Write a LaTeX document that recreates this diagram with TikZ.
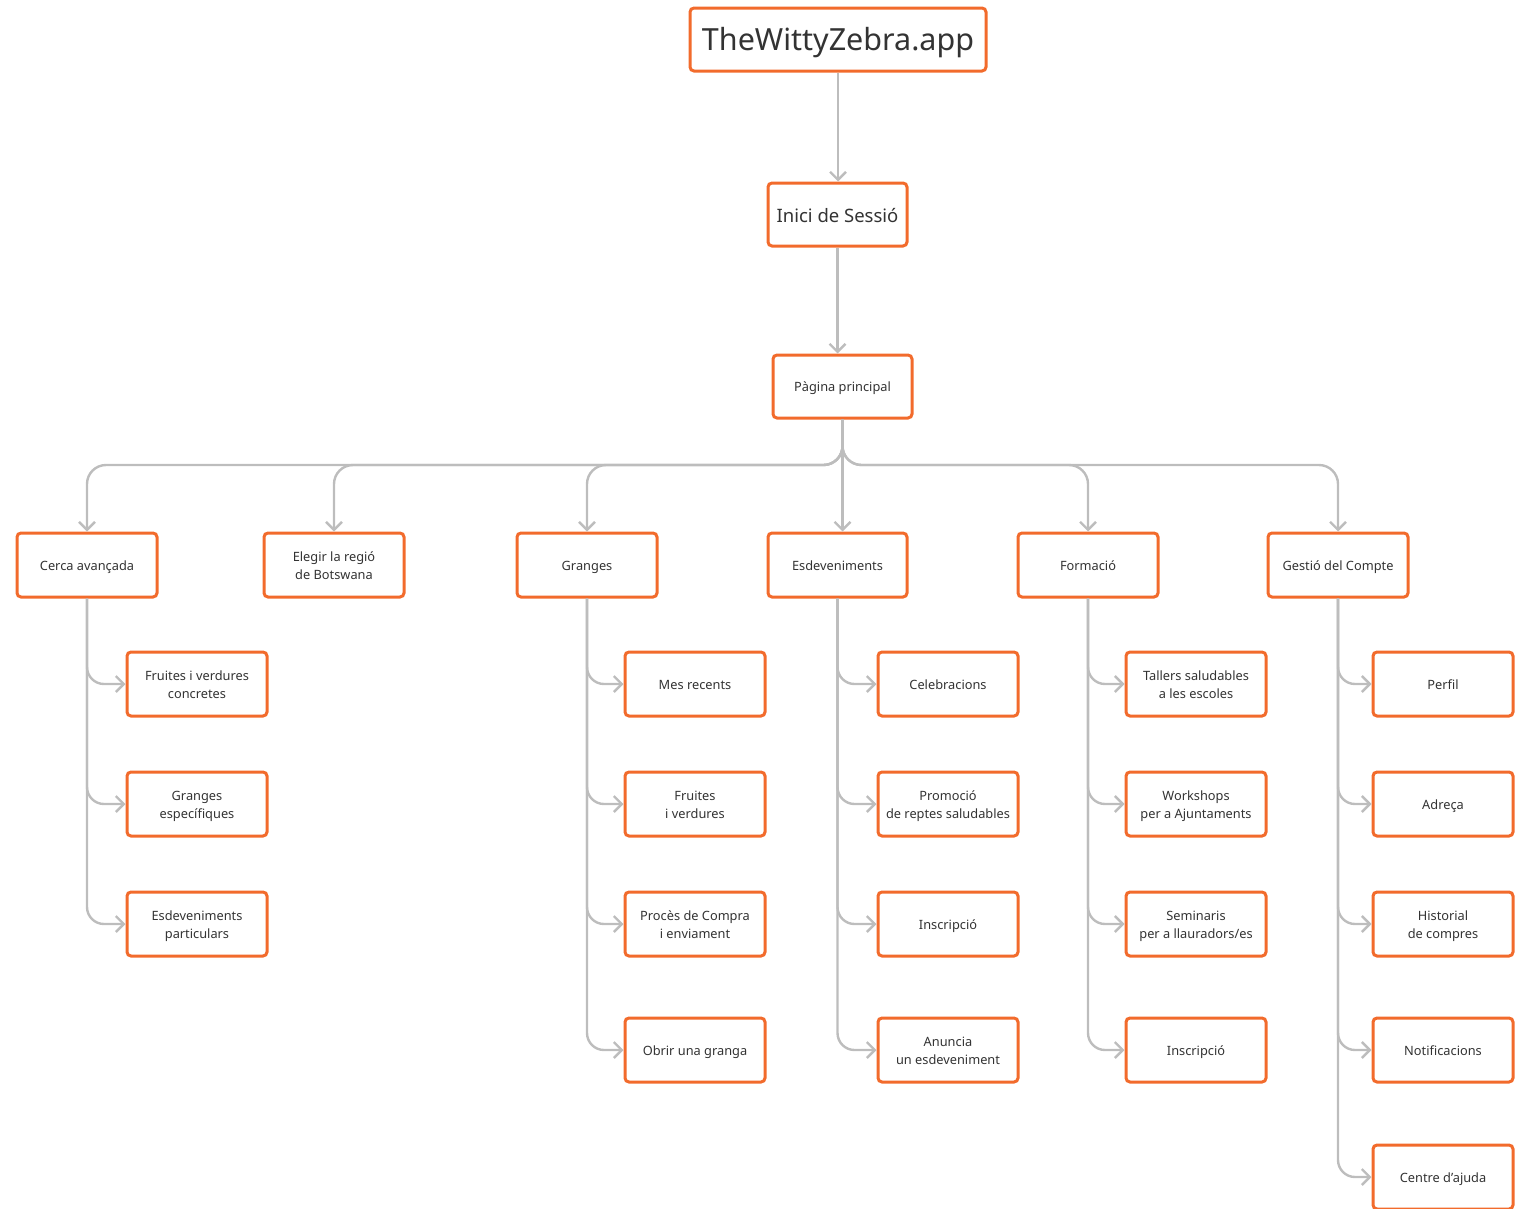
\documentclass[tikz,border=0pt]{standalone}
\usepackage{fontspec}
\setmainfont{Noto Sans}
\usetikzlibrary{arrows.meta}
\definecolor{boxorange}{HTML}{F26B2C}
\definecolor{linegray}{HTML}{BDBDBD}
\definecolor{txt}{HTML}{333333}
\begin{document}
\begin{tikzpicture}[x=1pt,y=-1pt,
  box/.style={draw=boxorange, line width=3pt, rounded corners=4pt, fill=white,
    minimum width=140pt, minimum height=64pt, inner sep=2pt, align=center,
    text=txt, font=\fontsize{12.8}{18}\selectfont},
  oneline/.style={text height=12.5pt, text depth=2.5pt},
  twolines/.style={text height=30.5pt, text depth=2.5pt},
  conn/.style={draw=linegray, line width=2.4pt,
    -{Straight Barb[length=8pt,width=16pt,line width=2.4pt]}},
  childlink/.style={conn, rounded corners=17pt}]
\useasboundingbox (0,0) rectangle (1522,1208);

% top of the tree
\node[box, minimum width=296pt, minimum height=63pt, font=\fontsize{30.5}{36}\selectfont,
      text height=27pt, text depth=6pt] (app) at (838,39.5) {TheWittyZebra.app};
\node[box, minimum width=139pt, minimum height=63pt, font=\fontsize{18.5}{22}\selectfont,
      text height=18.5pt, text depth=3.5pt] (login) at (837.5,214.5) {Inici de Sessió};
\node[box, oneline, minimum width=139pt, minimum height=63pt] (home) at (842.5,386.5) {Pàgina principal};

% main sections
\node[box, oneline] (cerca) at (87,565) {Cerca avançada};
\node[box, twolines] (regio) at (334,565) {Elegir la regió\\de Botswana};
\node[box, oneline] (granges) at (587,565) {Granges};
\node[box, oneline, minimum width=139pt] (esdev) at (837.5,565) {Esdeveniments};
\node[box, oneline] (formacio) at (1088,565) {Formació};
\node[box, oneline] (compte) at (1338,565) {Gestió del Compte};

% Cerca avançada
\node[box, twolines] (c1) at (197,684) {Fruites i verdures\\concretes};
\node[box, twolines] (c2) at (197,804) {Granges\\específiques};
\node[box, twolines] (c3) at (197,924) {Esdeveniments\\particulars};

% Granges
\node[box, oneline] (g1) at (695,684) {Mes recents};
\node[box, twolines] (g2) at (695,804) {Fruites\\i verdures};
\node[box, twolines] (g3) at (695,924) {Procès de Compra\\i enviament};
\node[box, oneline] (g4) at (695,1050) {Obrir una granga};

% Esdeveniments
\node[box, oneline] (e1) at (948,684) {Celebracions};
\node[box, twolines] (e2) at (948,804) {Promoció\\de reptes saludables};
\node[box, oneline] (e3) at (948,924) {Inscripció};
\node[box, twolines] (e4) at (948,1050) {Anuncia\\un esdeveniment};

% Formació
\node[box, twolines] (f1) at (1196,684) {Tallers saludables\\a les escoles};
\node[box, twolines] (f2) at (1196,804) {Workshops\\per a Ajuntaments};
\node[box, twolines] (f3) at (1196,924) {Seminaris\\per a llauradors/es};
\node[box, oneline] (f4) at (1196,1050) {Inscripció};

% Gestió del Compte
\node[box, oneline] (a1) at (1443,684) {Perfil};
\node[box, oneline] (a2) at (1443,804) {Adreça};
\node[box, twolines] (a3) at (1443,924) {Historial\\de compres};
\node[box, oneline] (a4) at (1443,1050) {Notificacions};
\node[box, oneline] (a5) at (1443,1177) {Centre d’ajuda};

% vertical spine
\draw[conn] (app.south) -- (app.south |- login.north);
\draw[conn] (login.south) -- (login.south |- home.north);

% bus to the main sections
\coordinate (bus) at (842.5,465);
\foreach \s in {cerca,regio,granges,formacio,compte}
  \draw[conn, rounded corners=19pt] (home.south) -- (home.south |- bus) -| (\s.north);
\draw[conn] (home.south) -- (home.south |- esdev.north);

% sub-pages
\foreach \p/\c in {cerca/c1,cerca/c2,cerca/c3,
                   granges/g1,granges/g2,granges/g3,granges/g4,
                   esdev/e1,esdev/e2,esdev/e3,esdev/e4,
                   formacio/f1,formacio/f2,formacio/f3,formacio/f4,
                   compte/a1,compte/a2,compte/a3,compte/a4,compte/a5}
  \draw[childlink] (\p.south) |- (\c.west);
\end{tikzpicture}
\end{document}
